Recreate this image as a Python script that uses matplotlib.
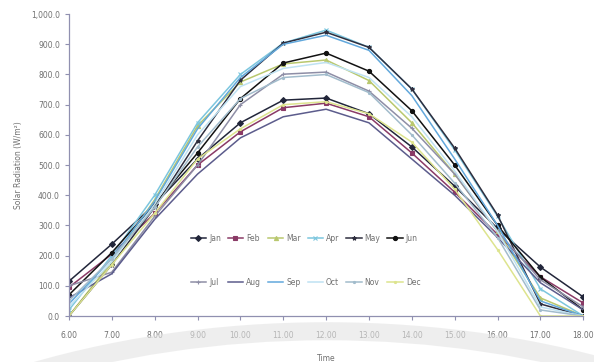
import matplotlib.pyplot as plt # グラフ描画用ライブラリ
from matplotlib.ticker import FuncFormatter # 目盛り書式用
from matplotlib.patches import Wedge # 背景の透かし用


# 時刻（横軸）
hours = [6, 7, 8, 9, 10, 11, 12, 13, 14, 15, 16, 17, 18]
hour_labels = ['6.00', '7.00', '8.00', '9.00', '10.00', '11.00', '12.00',
               '13.00', '14.00', '15.00', '16.00', '17.00', '18.00']

# 月ごとの日射量 (W/m²)
months = ['Jan', 'Feb', 'Mar', 'Apr', 'May', 'Jun',
          'Jul', 'Aug', 'Sep', 'Oct', 'Nov', 'Dec']
jan = [115, 238, 370, 520, 640, 715, 722, 670, 560, 430, 290, 162, 63]
feb = [95, 205, 340, 500, 610, 690, 705, 660, 540, 410, 270, 130, 43]
mar = [0, 180, 385, 630, 775, 835, 848, 780, 640, 470, 280, 60, 0]
apr = [20, 200, 400, 640, 800, 904, 947, 890, 752, 550, 330, 90, 0]
may = [0, 170, 360, 580, 781, 904, 940, 890, 752, 556, 334, 40, 0]
jun = [70, 210, 370, 540, 720, 838, 871, 811, 680, 500, 300, 129, 20]
jul = [100, 145, 330, 500, 700, 801, 808, 745, 622, 470, 280, 120, 30]
aug = [60, 140, 320, 470, 590, 660, 685, 640, 520, 400, 260, 110, 20]
sep = [40, 190, 380, 620, 790, 900, 930, 880, 730, 520, 300, 50, 0]
oct_ = [30, 180, 370, 600, 760, 820, 840, 790, 660, 480, 280, 30, 0]
nov = [50, 190, 360, 560, 720, 790, 800, 740, 600, 440, 260, 20, 0]
dec = [0, 170, 340, 520, 620, 700, 710, 670, 576, 420, 220, 0, 0]
series = [jan, feb, mar, apr, may, jun, jul, aug, sep, oct_, nov, dec]

# 線の色とマーカー
colors = ['#22263a', '#8a3a66', '#b9c86e', '#7cc6de', '#2e2e3e', '#121212',
          '#8e8ea6', '#5c5c8c', '#62a8dc', '#bfe2f2', '#a2bccc', '#dde48e']
markers = ['D', 's', '^', 'x', '*', 'o', '+', '', '', '', '.', '.']


def draw_watermark(fig):
    # 背景の薄い灰色の弧（スキャン画像の透かし）
    w1 = Wedge((0.55, -1.05), 1.16, 35, 145, width=0.05, transform=fig.transFigure,
               facecolor='#e4e4e4', edgecolor='none', alpha=0.6, zorder=0)
    fig.patches.append(w1)


def main():
    plt.rcParams['font.family'] = ['DejaVu Sans']
    fig = plt.figure(figsize=(5.94, 3.62), dpi=100)
    draw_watermark(fig)
    ax = fig.add_axes([0.116, 0.127, 0.866, 0.834])
    ax.patch.set_alpha(0)

    for name, vals, c, m in zip(months, series, colors, markers):
        ax.plot(hours, vals, color=c, marker=m, markersize=3, linewidth=1.1,
                label=name, markeredgewidth=0.8)

    ax.set_xlim(6, 18)
    ax.set_ylim(0, 1000)
    ax.set_xticks(hours)
    ax.set_xticklabels(hour_labels)
    ax.set_yticks(range(0, 1001, 100))
    ax.yaxis.set_major_formatter(FuncFormatter(lambda v, p: f'{v:,.1f}'))

    # 軸の体裁
    for s in ['top', 'right']:
        ax.spines[s].set_visible(False)
    for s in ['left', 'bottom']:
        ax.spines[s].set_color('#9090b0')
        ax.spines[s].set_linewidth(0.9)
    ax.tick_params(colors='#9090b0', labelcolor='#707070', labelsize=5.5,
                   length=3, width=0.8)
    ax.tick_params(axis='x', pad=8)
    ax.set_xlabel('Time', fontsize=5.5, color='#707070', labelpad=10)
    ax.set_ylabel('Solar Radiation (W/m²)', fontsize=5.5, color='#707070', labelpad=6)

    # 凡例（2段、6列、行ごとに並べる）
    handles, labels = ax.get_legend_handles_labels()
    order = [0, 6, 1, 7, 2, 8, 3, 9, 4, 10, 5, 11]
    leg = ax.legend([handles[i] for i in order], [labels[i] for i in order],
                    ncol=6, loc='center', bbox_to_anchor=(0.46, 0.184),
                    frameon=False, fontsize=5.5, labelspacing=4.6,
                    handlelength=2.0, columnspacing=0.9, handletextpad=0.4)
    for t in leg.get_texts():
        t.set_color('#707070')

    fig.savefig('out.png', dpi=100)
    plt.close(fig)


if __name__ == '__main__':
    main()
